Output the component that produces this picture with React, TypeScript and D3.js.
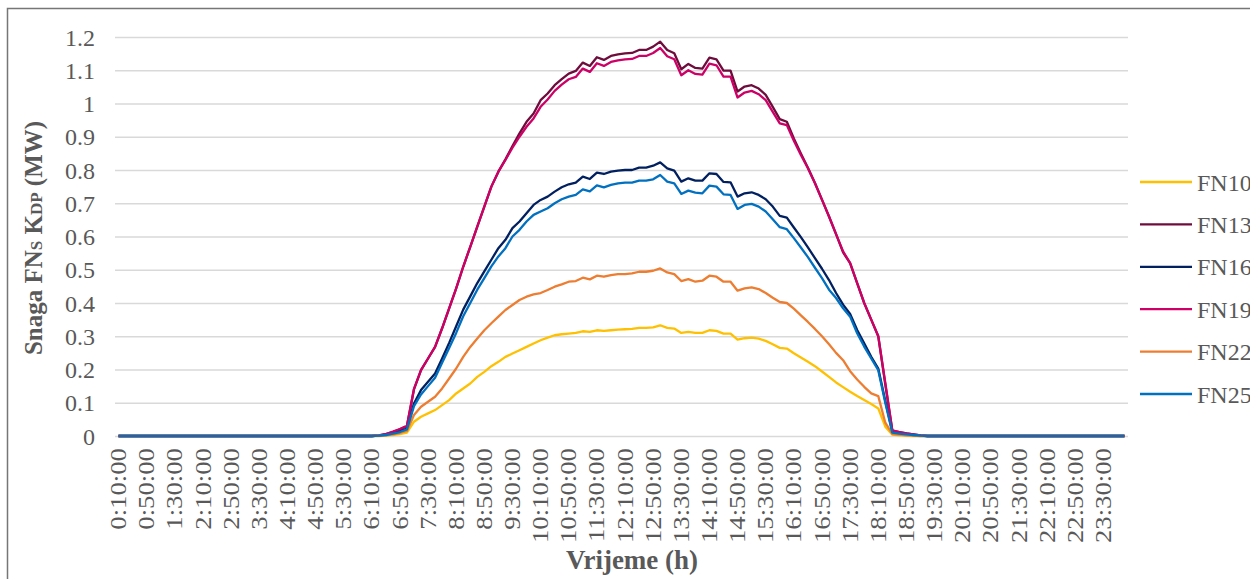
import * as d3 from 'd3';
import { useLayoutEffect, useRef } from 'react';

// 10-minute steps, 0:10:00 ... 24:00:00 (shown as 0:00:00)
const times = d3.range(144).map((i) => {
  const m = (i + 1) * 10;
  return `${Math.floor(m / 60) % 24}:${String(m % 60).padStart(2, '0')}:00`;
});

// one row = 2 hours (12 samples)
const FN10 = [
  0, 0, 0, 0, 0, 0, 0, 0, 0, 0, 0, 0,
  0, 0, 0, 0, 0, 0, 0, 0, 0, 0, 0, 0,
  0, 0, 0, 0, 0, 0, 0, 0, 0, 0, 0, 0,
  0, 0, 0.001, 0.003, 0.006, 0.01, 0.043, 0.058, 0.068, 0.078, 0.093, 0.108,
  0.128, 0.143, 0.158, 0.178, 0.193, 0.21, 0.223, 0.238, 0.248, 0.258, 0.268, 0.278,
  0.288, 0.296, 0.303, 0.306, 0.308, 0.31, 0.315, 0.313, 0.318, 0.316, 0.318, 0.32,
  0.321, 0.322, 0.325, 0.325, 0.327, 0.333, 0.325, 0.323, 0.31, 0.313, 0.31, 0.31,
  0.318, 0.316, 0.308, 0.308, 0.29, 0.294, 0.296, 0.293, 0.286, 0.276, 0.265, 0.263,
  0.249, 0.236, 0.223, 0.21, 0.194, 0.178, 0.161, 0.147, 0.133, 0.12, 0.108, 0.096,
  0.083, 0.028, 0.004, 0.002, 0.001, 0, 0, 0, 0, 0, 0, 0,
  0, 0, 0, 0, 0, 0, 0, 0, 0, 0, 0, 0,
  0, 0, 0, 0, 0, 0, 0, 0, 0, 0, 0, 0,
];

const FN13 = [
  0, 0, 0, 0, 0, 0, 0, 0, 0, 0, 0, 0,
  0, 0, 0, 0, 0, 0, 0, 0, 0, 0, 0, 0,
  0, 0, 0, 0, 0, 0, 0, 0, 0, 0, 0, 0,
  0, 0.002, 0.006, 0.012, 0.02, 0.03, 0.14, 0.198, 0.233, 0.268, 0.324, 0.384,
  0.444, 0.509, 0.569, 0.63, 0.69, 0.75, 0.795, 0.832, 0.872, 0.91, 0.945, 0.97,
  1.01, 1.03, 1.055, 1.073, 1.09, 1.098, 1.123, 1.113, 1.139, 1.131, 1.143, 1.148,
  1.151, 1.152, 1.161, 1.161, 1.171, 1.186, 1.161, 1.151, 1.103, 1.119, 1.107, 1.105,
  1.138, 1.133, 1.099, 1.099, 1.036, 1.051, 1.055, 1.045, 1.026, 0.99, 0.953, 0.945,
  0.895, 0.85, 0.807, 0.761, 0.711, 0.66, 0.607, 0.552, 0.52, 0.46, 0.4, 0.35,
  0.3, 0.155, 0.016, 0.012, 0.008, 0.005, 0.002, 0, 0, 0, 0, 0,
  0, 0, 0, 0, 0, 0, 0, 0, 0, 0, 0, 0,
  0, 0, 0, 0, 0, 0, 0, 0, 0, 0, 0, 0,
];

const FN16 = [
  0, 0, 0, 0, 0, 0, 0, 0, 0, 0, 0, 0,
  0, 0, 0, 0, 0, 0, 0, 0, 0, 0, 0, 0,
  0, 0, 0, 0, 0, 0, 0, 0, 0, 0, 0, 0,
  0, 0.001, 0.004, 0.008, 0.014, 0.022, 0.098, 0.138, 0.163, 0.188, 0.233, 0.28,
  0.33, 0.38, 0.42, 0.46, 0.495, 0.53, 0.565, 0.59, 0.625, 0.645, 0.67, 0.695,
  0.71, 0.72, 0.735, 0.748, 0.757, 0.762, 0.78, 0.773, 0.792, 0.788, 0.795, 0.798,
  0.8, 0.8, 0.807, 0.807, 0.813, 0.823, 0.805, 0.798, 0.765, 0.775, 0.768, 0.768,
  0.79, 0.788, 0.764, 0.763, 0.72, 0.73, 0.733, 0.725, 0.712, 0.69, 0.662, 0.657,
  0.627, 0.598, 0.567, 0.535, 0.503, 0.469, 0.43, 0.395, 0.367, 0.319, 0.279, 0.238,
  0.203, 0.105, 0.013, 0.009, 0.006, 0.003, 0.001, 0, 0, 0, 0, 0,
  0, 0, 0, 0, 0, 0, 0, 0, 0, 0, 0, 0,
  0, 0, 0, 0, 0, 0, 0, 0, 0, 0, 0, 0,
];

const FN19 = [
  0, 0, 0, 0, 0, 0, 0, 0, 0, 0, 0, 0,
  0, 0, 0, 0, 0, 0, 0, 0, 0, 0, 0, 0,
  0, 0, 0, 0, 0, 0, 0, 0, 0, 0, 0, 0,
  0, 0.002, 0.006, 0.013, 0.021, 0.031, 0.142, 0.198, 0.233, 0.268, 0.324, 0.384,
  0.444, 0.509, 0.569, 0.63, 0.69, 0.75, 0.795, 0.83, 0.867, 0.9, 0.93, 0.955,
  0.99, 1.012, 1.038, 1.057, 1.073, 1.08, 1.105, 1.095, 1.121, 1.113, 1.125, 1.13,
  1.133, 1.134, 1.143, 1.143, 1.152, 1.167, 1.142, 1.133, 1.085, 1.1, 1.089, 1.087,
  1.12, 1.115, 1.081, 1.081, 1.018, 1.033, 1.038, 1.028, 1.01, 0.975, 0.94, 0.935,
  0.888, 0.845, 0.805, 0.76, 0.71, 0.66, 0.607, 0.555, 0.52, 0.46, 0.4, 0.35,
  0.3, 0.16, 0.017, 0.012, 0.008, 0.005, 0.002, 0, 0, 0, 0, 0,
  0, 0, 0, 0, 0, 0, 0, 0, 0, 0, 0, 0,
  0, 0, 0, 0, 0, 0, 0, 0, 0, 0, 0, 0,
];

const FN22 = [
  0, 0, 0, 0, 0, 0, 0, 0, 0, 0, 0, 0,
  0, 0, 0, 0, 0, 0, 0, 0, 0, 0, 0, 0,
  0, 0, 0, 0, 0, 0, 0, 0, 0, 0, 0, 0,
  0, 0.001, 0.002, 0.005, 0.009, 0.015, 0.063, 0.088, 0.103, 0.118, 0.143, 0.173,
  0.203, 0.238, 0.268, 0.293, 0.318, 0.339, 0.359, 0.379, 0.394, 0.409, 0.419, 0.426,
  0.43, 0.439, 0.449, 0.456, 0.464, 0.466, 0.476, 0.471, 0.482, 0.479, 0.484, 0.487,
  0.487, 0.489, 0.494, 0.494, 0.497, 0.504, 0.492, 0.487, 0.466, 0.472, 0.464, 0.467,
  0.482, 0.479, 0.464, 0.464, 0.437, 0.444, 0.447, 0.442, 0.43, 0.416, 0.403, 0.4,
  0.383, 0.363, 0.343, 0.322, 0.3, 0.276, 0.25, 0.228, 0.195, 0.17, 0.148, 0.128,
  0.12, 0.04, 0.006, 0.004, 0.002, 0.001, 0, 0, 0, 0, 0, 0,
  0, 0, 0, 0, 0, 0, 0, 0, 0, 0, 0, 0,
  0, 0, 0, 0, 0, 0, 0, 0, 0, 0, 0, 0,
];

const FN25 = [
  0, 0, 0, 0, 0, 0, 0, 0, 0, 0, 0, 0,
  0, 0, 0, 0, 0, 0, 0, 0, 0, 0, 0, 0,
  0, 0, 0, 0, 0, 0, 0, 0, 0, 0, 0, 0,
  0, 0.001, 0.003, 0.007, 0.012, 0.02, 0.09, 0.125, 0.15, 0.175, 0.22, 0.265,
  0.31, 0.36, 0.4, 0.44, 0.475, 0.51, 0.54, 0.565, 0.6, 0.62, 0.645, 0.665,
  0.675, 0.685, 0.7, 0.712, 0.72, 0.725, 0.742, 0.736, 0.754, 0.748, 0.755, 0.76,
  0.762, 0.762, 0.768, 0.768, 0.772, 0.785, 0.765, 0.76, 0.728, 0.738, 0.732, 0.73,
  0.753, 0.75, 0.727, 0.725, 0.683, 0.695, 0.698, 0.69, 0.675, 0.652, 0.628, 0.622,
  0.595, 0.567, 0.538, 0.506, 0.475, 0.44, 0.415, 0.384, 0.359, 0.309, 0.269, 0.233,
  0.198, 0.1, 0.01, 0.007, 0.005, 0.003, 0.001, 0, 0, 0, 0, 0,
  0, 0, 0, 0, 0, 0, 0, 0, 0, 0, 0, 0,
  0, 0, 0, 0, 0, 0, 0, 0, 0, 0, 0, 0,
];

const seriesNames = ['FN10', 'FN13', 'FN16', 'FN19', 'FN22', 'FN25'];
const seriesValues = [FN10, FN13, FN16, FN19, FN22, FN25];
const seriesColors = ['#FFC000', '#6E0C3C', '#002060', '#CC0066', '#ED7D31', '#0070C0'];

const FONT = "'Liberation Serif', 'Times New Roman', serif";
const TEXT = '#595959';

export default function App() {
  const container = useRef<SVGSVGElement>(null);

  useLayoutEffect(() => {
    if (!container.current) return;
    const svg = d3.select(container.current);
    svg.selectAll('*').remove();

    // chart frame (runs off the right/bottom edge like the source)
    svg
      .append('rect')
      .attr('x', 7.5)
      .attr('y', 8.5)
      .attr('width', 1400)
      .attr('height', 800)
      .attr('fill', '#fff')
      .attr('stroke', '#767676')
      .attr('stroke-width', 1.5);

    const left = 115,
      right = 1128,
      top = 37,
      bottom = 436;

    const x = d3.scaleBand().domain(times).range([left, right]);
    const cx = (i: number) => (x(times[i]) ?? 0) + x.bandwidth() / 2;
    const y = d3.scaleLinear().domain([0, 1.2]).range([bottom, top]);

    // y axis + grid
    const yAxis = d3
      .axisLeft(y)
      .ticks(12)
      .tickSize(-(right - left))
      .tickPadding(20)
      .tickFormat((d) => String(+(+d).toFixed(1)));
    const gy = svg.append('g').attr('transform', `translate(${left},0)`).call(yAxis);
    gy.select('.domain').remove();
    gy.selectAll('line').attr('stroke', '#d9d9d9').attr('stroke-width', 1.4);
    gy.selectAll('text')
      .attr('fill', TEXT)
      .style('font-family', FONT)
      .style('font-size', '24px')
      .attr('dy', '0.34em');

    // x axis, every 4th label
    const xAxis = d3
      .axisBottom(x)
      .tickValues(times.filter((d, i) => i % 4 === 0))
      .tickSize(0);
    const gx = svg.append('g').attr('transform', `translate(0,${bottom})`).call(xAxis);
    gx.select('.domain').remove();
    gx.selectAll('text')
      .attr('fill', TEXT)
      .style('font-family', FONT)
      .style('font-size', '23px')
      .attr('text-anchor', 'end')
      .attr('transform', 'rotate(-90) scale(1.16,1)')
      .attr('x', -10.5)
      .attr('y', 0)
      .attr('dy', '0.33em');

    // lines
    const line = d3
      .line<number>()
      .x((d, i) => cx(i))
      .y((d) => y(d));
    seriesValues.forEach((vals, k) => {
      svg
        .append('path')
        .datum(vals)
        .attr('d', line)
        .attr('fill', 'none')
        .attr('stroke', seriesColors[k])
        .attr('stroke-width', 2.3)
        .attr('stroke-linejoin', 'round');
    });

    // legend
    const legend = svg.append('g');
    seriesNames.forEach((name, k) => {
      const ly = 182 + k * 42.4;
      legend
        .append('line')
        .attr('x1', 1140)
        .attr('x2', 1192)
        .attr('y1', ly)
        .attr('y2', ly)
        .attr('stroke', seriesColors[k])
        .attr('stroke-width', 2.3);
      legend
        .append('text')
        .text(name)
        .attr('x', 1197)
        .attr('y', ly + 8.5)
        .attr('fill', TEXT)
        .style('font-family', FONT)
        .style('font-size', '24px');
    });

    // axis titles
    svg
      .append('text')
      .text('Vrijeme (h)')
      .attr('x', 632)
      .attr('y', 569)
      .attr('text-anchor', 'middle')
      .attr('fill', TEXT)
      .style('font-family', FONT)
      .style('font-size', '27px')
      .style('font-weight', 'bold');

    const yt = svg
      .append('text')
      .attr('transform', 'translate(42,238) rotate(-90)')
      .attr('text-anchor', 'middle')
      .attr('fill', TEXT)
      .style('font-family', FONT)
      .style('font-size', '25px')
      .style('font-weight', 'bold');
    yt.append('tspan').text('Snaga FN');
    yt.append('tspan').text('S').style('font-size', '17px');
    yt.append('tspan').text(' K');
    yt.append('tspan').text('DP').style('font-size', '17px');
    yt.append('tspan').text(' (MW)');
  }, []);

  return (
    <svg
      ref={container}
      width={1250}
      height={579}
      style={{ position: 'absolute', left: 0, top: 0, display: 'block' }}
    ></svg>
  );
}
